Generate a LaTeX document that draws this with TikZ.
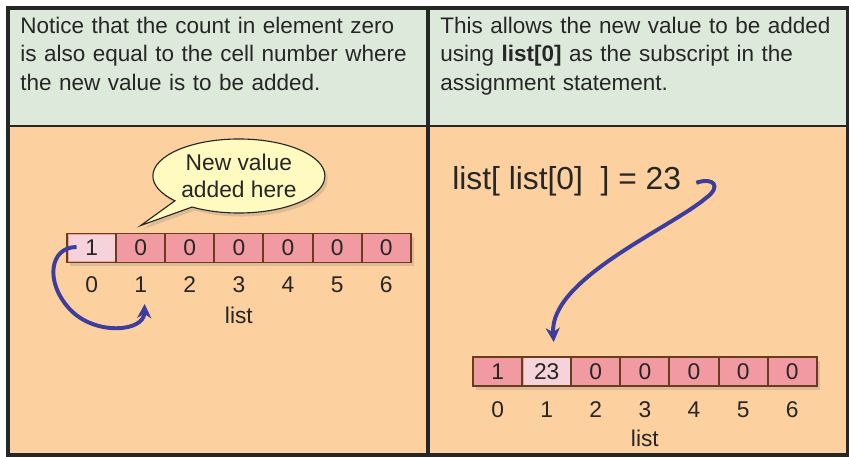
\documentclass[tikz,border=0pt]{standalone}
\usepackage{fontspec}
\setmainfont{Liberation Sans}
\usetikzlibrary{arrows.meta,positioning,calc,shapes.callouts,shadows}
\definecolor{frame}{RGB}{38,38,38}
\definecolor{softgreen}{RGB}{221,233,218}
\definecolor{softorange}{RGB}{253,208,159}
\definecolor{cellpink}{RGB}{242,154,162}
\definecolor{lightpink}{RGB}{246,210,218}
\definecolor{cellbrown}{RGB}{105,60,30}
\definecolor{notefill}{RGB}{254,250,192}
\definecolor{arrowblue}{RGB}{60,62,158}

\begin{document}
\begin{tikzpicture}[x=0.025cm,y=-0.025cm,
  every node/.style={text=black!85,inner sep=0pt,font=\fontsize{16.2}{19}\selectfont},
  cell/.style={draw=cellbrown,line width=1.4pt,fill=cellpink,minimum width=1.2285cm,minimum height=0.725cm,
    drop shadow={opacity=.25,shadow xshift=2pt,shadow yshift=-2.5pt}},
  header/.style={anchor=north west,text width=11cm,align=left,font=\fontsize{16}{20.2}\selectfont},
  flow/.style={draw=arrowblue,line width=2.8pt,-{Stealth[length=10pt,width=10pt,inset=3pt]}}]
  \useasboundingbox (0,0) rectangle (849,457);
  \fill[softgreen] (8,8) rectangle (848,126);
  \fill[softorange] (8,126) rectangle (848,455);
  \draw[frame,line width=1.6pt] (8,126) -- (848,126);
  \draw[frame,line width=3pt] (428,8) -- (428,455);
  \draw[frame,line width=3pt] (8,8) rectangle (848,455);

  \node[header] (noteleft) at (20,17)
    {Notice that the count in element zero\\is also equal to the cell number where\\the new value is to be added.};
  \node[header] (noteright) at (440,17)
    {This allows the new value to be added\\using \textbf{list[0]} as the subscript in the\\assignment statement.};

  \foreach \v [count=\i from 0] in {1,0,0,0,0,0,0}{
    \node[cell] (l\i) at (91.6+49.1*\i,248) {\v};
    \node (li\i) at ($(l\i)+(0,37)$) {\i};}
  \node[fill=lightpink,minimum width=1.15cm,minimum height=0.65cm] at (l0) {1};
  \node (llist) at ($(l3)+(0,67)$) {list};

  \node[ellipse callout,draw=frame,line width=0.8pt,fill=notefill,minimum width=4.3cm,minimum height=1.85cm,
    align=center,callout absolute pointer={($(l1.north)+(0,-7)$)},
    drop shadow={opacity=.25,shadow xshift=2pt,shadow yshift=-2.5pt}] (bubble) at ($(l3)+(0,-72)$)
    {New value\\added here};
  \draw[flow] ($(l0)+(-15,-1)$) .. controls +(-27,0) and +(-25,-27) .. ++(-7,62)
    .. controls +(25,27) and +(-1,28) .. ($(li1)+(4,19)$);

  \node[anchor=base west,font=\fontsize{22.6}{26}\selectfont] (code) at (452,190) {list[ list[0]\ \ ] = 23};

  \foreach \v [count=\i from 0] in {1,23,0,0,0,0,0}{
    \node[cell] (r\i) at (497.6+49.1*\i,371.5) {\v};
    \node (ri\i) at ($(r\i)+(0,38.5)$) {\i};}
  \node[fill=lightpink,minimum width=1.15cm,minimum height=0.65cm] at (r1) {23};
  \node (rlist) at ($(r3)+(0,67)$) {list};

  \draw[flow] ($(code.east)+(15,1)$) .. controls +(18,-6) and +(15,-11) .. ++(10,15)
    .. controls +(-37,31) and +(-4,-63) .. ($(r1.north)+(7,-14)$);
\end{tikzpicture}
\end{document}
